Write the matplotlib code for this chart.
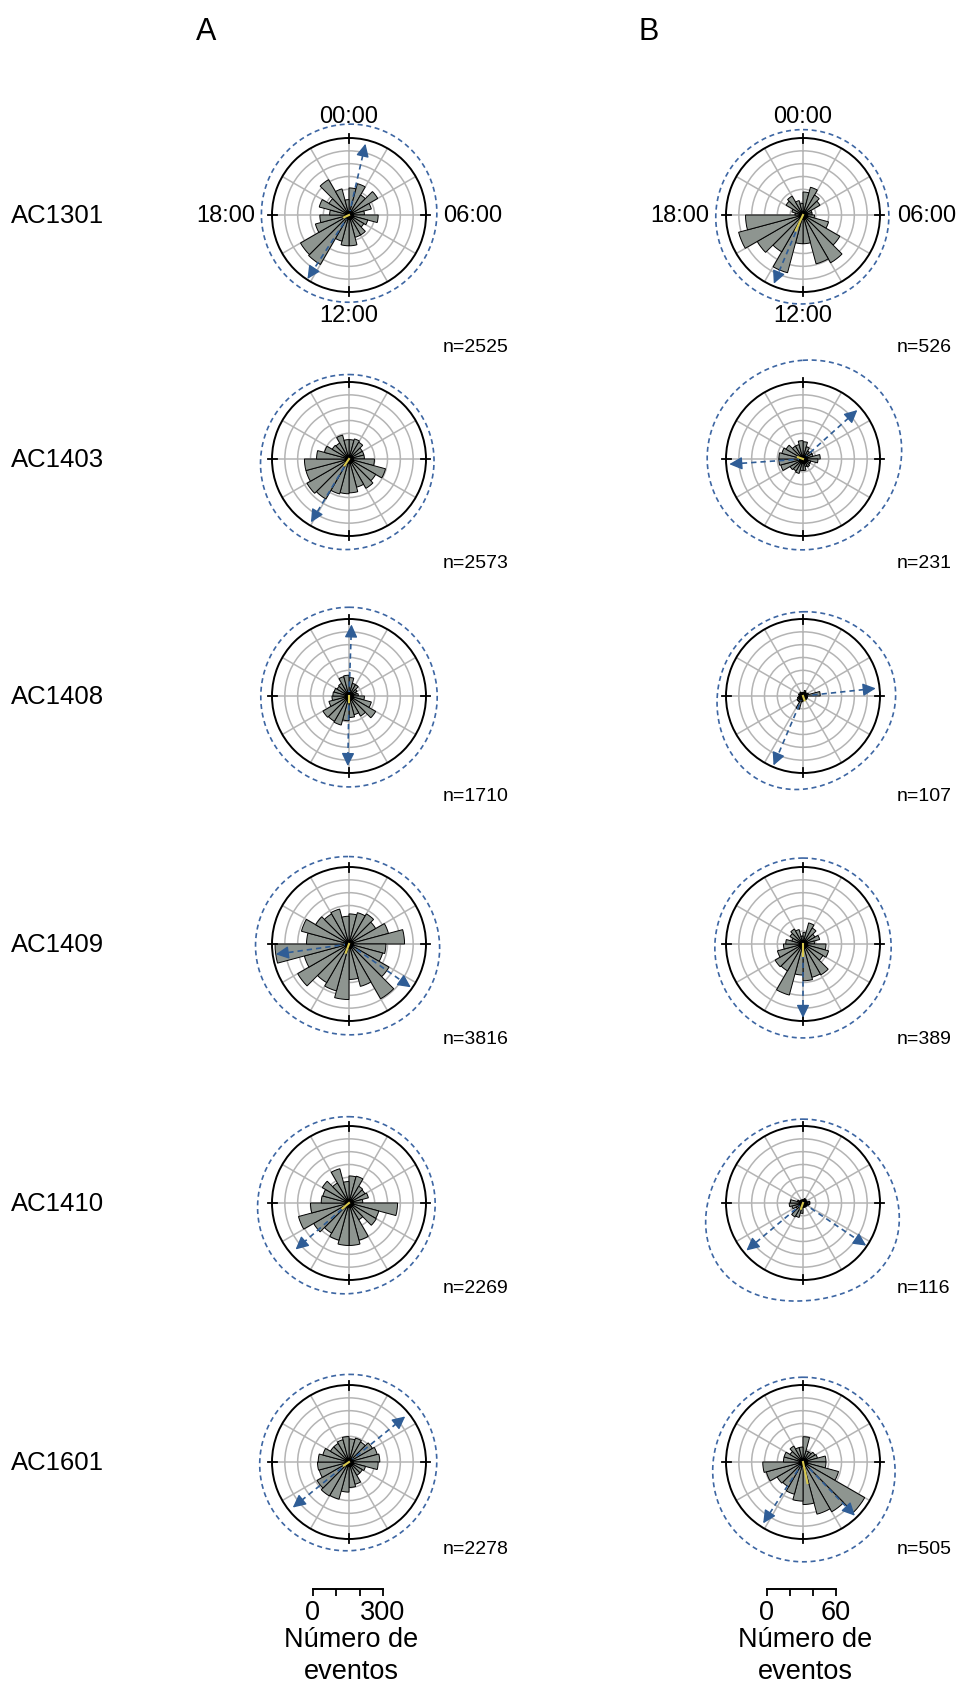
import numpy as np
import matplotlib
matplotlib.use('Agg')
import matplotlib.pyplot as plt

plt.rcParams['font.family'] = ['Liberation Sans', 'DejaVu Sans']

animals = ['AC1301', 'AC1403', 'AC1408', 'AC1409', 'AC1410', 'AC1601']
n_a = [2525, 2573, 1710, 3816, 2269, 2278]
n_b = [526, 231, 107, 389, 116, 505]
time_labels = ['00:00', '06:00', '12:00', '18:00']
hours = np.arange(24)

# events per hour bin (00-01h, 01-02h, ... 23-24h), column A
a_ac1301 = [116, 139, 99, 142, 99, 66, 125, 83, 73, 99, 99, 132, 132, 116, 245, 240, 149, 125, 83, 132, 99, 175, 116, 66]
a_ac1403 = [83, 89, 83, 66, 66, 66, 109, 162, 132, 145, 125, 145, 149, 155, 198, 208, 191, 191, 139, 109, 83, 79, 106, 83]
a_ac1408 = [79, 56, 56, 40, 33, 40, 66, 99, 132, 99, 83, 92, 106, 129, 125, 129, 89, 73, 69, 66, 59, 63, 86, 89]
a_ac1409 = [129, 139, 149, 132, 175, 238, 158, 149, 198, 271, 188, 152, 238, 208, 191, 254, 198, 317, 182, 211, 165, 149, 155, 119]
a_ac1410 = [116, 119, 83, 79, 86, 59, 208, 132, 135, 83, 165, 182, 182, 165, 149, 175, 224, 165, 119, 116, 132, 99, 152, 92]
a_ac1601 = [99, 106, 99, 116, 125, 132, 125, 73, 66, 66, 99, 109, 129, 165, 168, 158, 132, 135, 132, 116, 92, 92, 99, 109]

# column B
b_ac1301 = [20, 25, 20, 17, 8, 8, 10, 23, 37, 48, 44, 25, 25, 52, 37, 46, 58, 50, 7, 10, 17, 19, 13, 10]
b_ac1403 = [15, 11, 8, 9, 9, 15, 13, 7, 7, 8, 7, 10, 10, 13, 12, 13, 20, 21, 21, 19, 17, 13, 13, 16]
b_ac1408 = [3, 5, 4, 3, 5, 15, 4, 3, 2, 3, 2, 4, 5, 12, 6, 6, 5, 4, 3, 4, 3, 4, 3, 3]
b_ac1409 = [10, 19, 16, 12, 15, 10, 20, 23, 20, 31, 30, 32, 27, 46, 27, 28, 23, 17, 15, 10, 13, 15, 13, 7]
b_ac1410 = [3, 4, 4, 2, 2, 6, 6, 5, 2, 2, 2, 2, 9, 13, 14, 7, 10, 12, 11, 5, 3, 3, 2, 2]
b_ac1601 = [22, 10, 10, 12, 13, 20, 20, 32, 62, 50, 47, 37, 34, 29, 25, 26, 33, 35, 17, 17, 13, 16, 13, 13]

# mixture component directions (deg, clockwise from 00:00) and arrow length (fraction of max)
arrows_a = [[(13, 0.95), (213, 0.99)], [(211, 0.96)], [(2, 0.93), (181, 0.91)],
            [(262, 0.96), (125, 0.98)], [(229, 0.92)], [(51, 0.94), (231, 0.94)]]
arrows_b = [[(203, 0.97)], [(48, 0.95), (266, 0.96)], [(84, 0.95), (203, 0.98)],
            [(180, 0.96)], [(230, 0.96), (124, 0.99)], [(213, 0.95), (136, 0.97)]]

# fitted density outline: base radius, component weights, concentration
dens_a = [(1.11, [0.07, 0.02], 1.2), (1.08, [0.11], 1.0), (1.13, [0.02, 0.05], 1.5),
          (1.11, [0.10, 0.08], 1.5), (1.10, [0.11], 1.0), (1.11, [0.03, 0.06], 1.2)]
dens_b = [(1.10, [0.06], 1.0), (1.12, [0.20, 0.10], 1.2), (1.08, [0.12, 0.15], 2.5),
          (1.10, [0.12], 1.0), (1.08, [0.28, 0.23], 2.5), (1.08, [0.15, 0.15], 1.5)]

# mean resultant vector (deg, fraction of max)
mean_a = [(245, 0.07), (215, 0.10), (180, 0.08), (200, 0.12), (230, 0.11), (235, 0.08)]
mean_b = [(205, 0.22), (290, 0.07), (160, 0.06), (180, 0.15), (200, 0.08), (168, 0.28)]

rmax_a, rmax_b = 330, 67
scale_ticks_a = [0, 100, 200, 300]
scale_ticks_b = [0, 20, 40, 60]

counts_a = [a_ac1301, a_ac1403, a_ac1408, a_ac1409, a_ac1410, a_ac1601]
counts_b = [b_ac1301, b_ac1403, b_ac1408, b_ac1409, b_ac1410, b_ac1601]

# layout (pixels)
FIG_W, FIG_H = 956, 1683
R_PX = 77
col_x = [349, 803]
row_y = [216, 460, 697, 945, 1204, 1463]
n_y = [348, 563, 797, 1040, 1289, 1550]

BAR_C = '#8e9590'
GRID_C = '#b4b4b4'
BLUE = '#2f5d96'
DASH_BLUE = '#3d66a3'
YELLOW = '#d8c84e'

fig = plt.figure(figsize=(FIG_W / 100, FIG_H / 100), dpi=100)


def fx(px):
    return px / FIG_W


def fy(py):
    return 1 - py / FIG_H


def rose(cx, cy, counts, rmax, arrows, dens, mvec):
    ax = fig.add_axes([fx(cx - R_PX), fy(cy + R_PX), 2 * R_PX / FIG_W, 2 * R_PX / FIG_H],
                      projection='polar')
    ax.set_theta_zero_location('N')
    ax.set_theta_direction(-1)
    ax.set_ylim(0, rmax)
    ax.set_axisbelow(True)
    ax.set_thetagrids(np.arange(0, 360, 30), labels=[])
    ax.set_rgrids(np.arange(1, 6) * rmax / 6, labels=[])
    ax.grid(True, color=GRID_C, lw=1.1)
    ax.tick_params(length=0)
    ax.spines['polar'].set_linewidth(1.4)
    ax.spines['polar'].set_color('black')

    theta = np.deg2rad(hours * 15 + 7.5)
    ax.bar(theta, counts, width=np.deg2rad(15), color=BAR_C, edgecolor='black',
           linewidth=0.7, zorder=3)

    # cardinal ticks
    for d in (0, 90, 180, 270):
        t = np.deg2rad(d)
        ax.plot([t, t], [0.935 * rmax, 1.055 * rmax], color='black', lw=1.3,
                clip_on=False, zorder=4)

    # density outline
    r0, weights, kappa = dens
    tt = np.linspace(0, 2 * np.pi, 721)
    rr = np.full_like(tt, r0)
    for (mu, _), w in zip(arrows, weights):
        rr += w * np.exp(kappa * (np.cos(tt - np.deg2rad(mu)) - 1))
    ax.plot(tt, rr * rmax, color=DASH_BLUE, lw=1.2, ls=(0, (3.0, 2.2)), clip_on=False)

    # component arrows
    for mu, frac in arrows:
        t = np.deg2rad(mu)
        tip = frac * rmax
        ax.plot([t, t], [0, tip * 0.93], color=BLUE, lw=1.2, ls=(0, (3.2, 2.4)), zorder=5)
        ax.annotate('', xy=(t, tip), xytext=(t, tip - 0.06 * rmax),
                    arrowprops=dict(arrowstyle='-|>,head_length=0.65,head_width=0.32',
                                    color=BLUE, lw=1.0, shrinkA=0, shrinkB=0,
                                    mutation_scale=12),
                    annotation_clip=False, zorder=5)

    ax.plot(0, 0, 'o', color='black', ms=5.5, zorder=6)
    mt = np.deg2rad(mvec[0])
    ax.plot([mt, mt], [0, mvec[1] * rmax], color=YELLOW, lw=1.5, zorder=7)
    return ax


for i, name in enumerate(animals):
    cy = row_y[i]
    ax_a = rose(col_x[0], cy, counts_a[i], rmax_a, arrows_a[i], dens_a[i], mean_a[i])
    ax_b = rose(col_x[1], cy, counts_b[i], rmax_b, arrows_b[i], dens_b[i], mean_b[i])
    fig.text(fx(11), fy(cy), name, ha='left', va='center', fontsize=18.5)
    fig.text(fx(col_x[0] + 94), fy(n_y[i]), f'n={n_a[i]}', ha='left', va='center', fontsize=14)
    fig.text(fx(col_x[1] + 94), fy(n_y[i]), f'n={n_b[i]}', ha='left', va='center', fontsize=14)
    if i == 0:
        for ax in (ax_a, ax_b):
            kw = dict(xy=(0.5, 0.5), xycoords='axes fraction', textcoords='offset pixels',
                      va='center', fontsize=17)
            ax.annotate(time_labels[0], xytext=(0, 99), ha='center', **kw)
            ax.annotate(time_labels[2], xytext=(0, -100), ha='center', **kw)
            ax.annotate(time_labels[1], xytext=(94, 0), ha='left', **kw)
            ax.annotate(time_labels[3], xytext=(-94, 0), ha='right', **kw)

fig.text(fx(206), fy(32), 'A', ha='center', va='center', fontsize=22)
fig.text(fx(649), fy(32), 'B', ha='center', va='center', fontsize=22)

# scale bars
for cx, rmax, ticks in ((col_x[0], rmax_a, scale_ticks_a), (col_x[1], rmax_b, scale_ticks_b)):
    sax = fig.add_axes([fx(cx - 36), fy(1590), R_PX / FIG_W, 0.001])
    sax.set_facecolor('none')
    sax.set_xlim(0, rmax)
    for s in ('top', 'left', 'right'):
        sax.spines[s].set_visible(False)
    sax.spines['bottom'].set_bounds(ticks[0], ticks[-1])
    sax.spines['bottom'].set_linewidth(1.4)
    sax.set_yticks([])
    sax.set_xticks(ticks)
    sax.set_xticklabels([str(ticks[0]), '', '', str(ticks[-1])])
    sax.tick_params(axis='x', direction='out', length=5, width=1.3, labelsize=19.5, pad=2)
    kw = dict(xy=(0.5, 0), xycoords='axes fraction', textcoords='offset pixels',
              ha='center', va='center', fontsize=19.5)
    sax.annotate('Número de', xytext=(0, -50), **kw)
    sax.annotate('eventos', xytext=(0, -82), **kw)

fig.savefig('out.png', dpi=100)
